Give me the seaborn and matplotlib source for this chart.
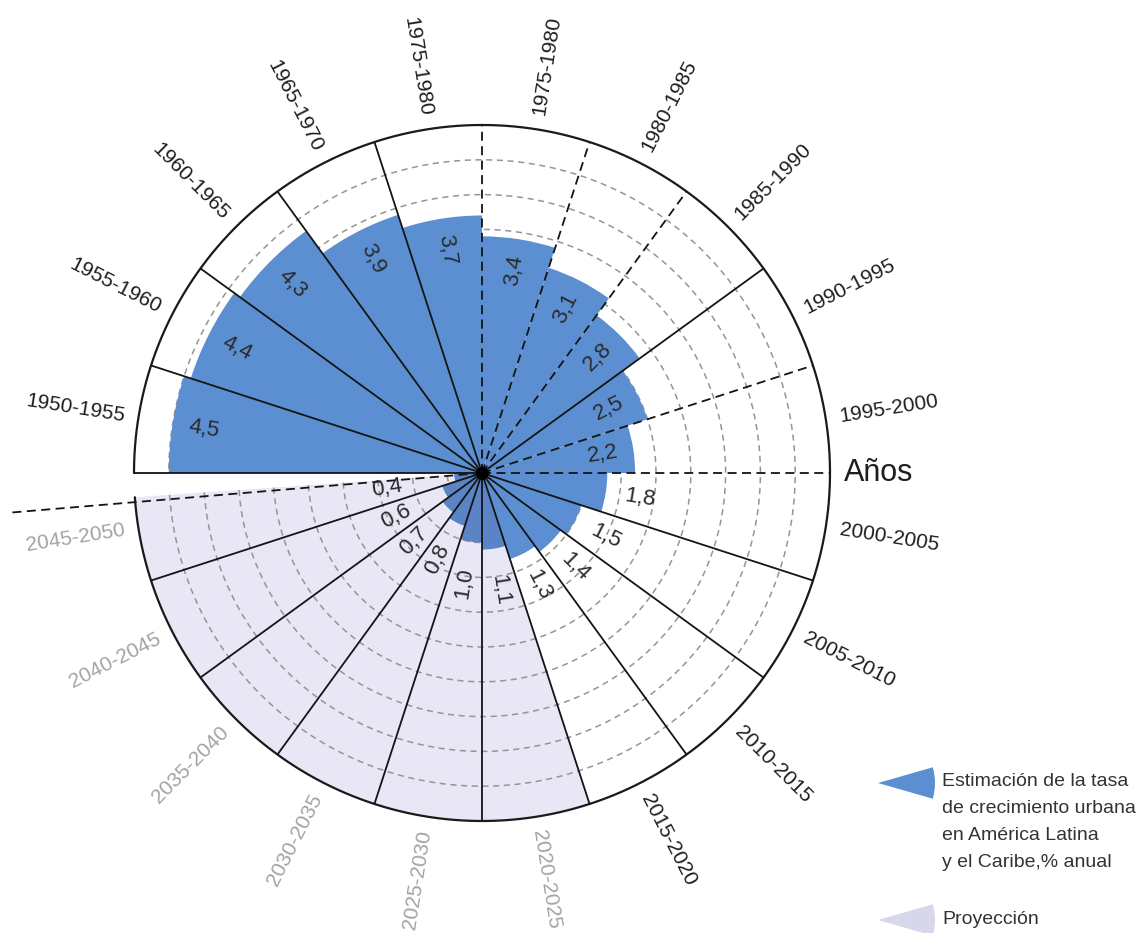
import numpy as np
import matplotlib
matplotlib.use("Agg")
import matplotlib.pyplot as plt
import seaborn as sns
from matplotlib.patches import Wedge

# ---------------- data ----------------
periods = ["1950-1955", "1955-1960", "1960-1965", "1965-1970", "1975-1980",
           "1975-1980", "1980-1985", "1985-1990", "1990-1995", "1995-2000",
           "2000-2005", "2005-2010", "2010-2015", "2015-2020", "2020-2025",
           "2025-2030", "2030-2035", "2035-2040", "2040-2045", "2045-2050"]
rates = [4.5, 4.4, 4.3, 3.9, 3.7, 3.4, 3.1, 2.8, 2.5, 2.2,
         1.8, 1.5, 1.4, 1.3, 1.1, 1.0, 0.8, 0.7, 0.6, 0.4]
projected = [False] * 14 + [True] * 6
legend_labels = ["Estimación de la tasa\nde crecimiento urbana\nen América Latina\ny el Caribe,% anual",
                 "Proyección"]
axis_label = "Años"

# ---------------- style ----------------
sns.set_style("white")
plt.rcParams["font.family"] = ["Liberation Sans", "DejaVu Sans"]

BLUE = "#5b8fd1"
BLUE_PROJ = "#5a84c6"
LAVENDER = "#e9e6f5"
LAV_LEG = "#d6d7ea"
GRID = "#959595"

W, H = 1145, 933
fig = plt.figure(figsize=(W / 100, H / 100), dpi=100)
cx, cy, R = 482, 473, 348
ax = fig.add_axes([(cx - R) / W, (H - cy - R) / H, 2 * R / W, 2 * R / H], projection="polar")
ax.set_ylim(0, 5)
ax.set_axis_off()

n = len(rates)
step = 18
centers_deg = np.array([171 - step * i for i in range(n)], dtype=float)
theta = np.deg2rad(centers_deg)

# projection background
p_idx = [i for i in range(n) if projected[i]]
p_start = centers_deg[p_idx[0]] + step / 2          # -72
p_end = centers_deg[p_idx[-1]] - step / 2 + 4       # gap at the left
ax.bar(np.deg2rad((p_start + p_end) / 2), 5, width=np.deg2rad(abs(p_start - p_end)),
       bottom=0, color=LAVENDER, edgecolor="none", zorder=0.5, align="center")

# grid circles
tt = np.deg2rad(np.linspace(184, 540, 800))
for r in np.arange(0.5, 5.0, 0.5):
    ax.plot(tt, np.full_like(tt, r), color=GRID, lw=1.1, ls=(0, (4, 3)), zorder=1)

# bars
colors = [BLUE_PROJ if p else BLUE for p in projected]
ax.bar(theta, rates, width=np.deg2rad(step), bottom=0, color=colors,
       edgecolor="none", zorder=2, align="center")

# outer circle
ax.plot(tt, np.full_like(tt, 5.0), color="#1a1a1a", lw=1.6, zorder=3, clip_on=False)

# radial separators
dashed = {90, 72, 54, 18, 0}
for k in range(n):
    a = 180 - step * k
    style = (0, (5, 3)) if a in dashed else "-"
    ax.plot([np.deg2rad(a)] * 2, [0, 5], color="#141414", lw=1.3, ls=style, zorder=3)
ax.plot([np.deg2rad(184.8)] * 2, [0, 6.78], color="#141414", lw=1.3, ls=(0, (5, 3)),
        zorder=3, clip_on=False)

ax.scatter([0], [0], s=70, color="black", zorder=4)


def orient(deg):
    a = ((deg + 180) % 360) - 180
    if -90 < a < 90:
        return a, "left"
    return (a - 180 if a > 0 else a + 180), "right"


for i in range(n):
    d = centers_deg[i]
    rot, ha = orient(d)
    col = "#a3a3a3" if projected[i] else "#1e1e1e"
    ax.text(theta[i], 5.2, periods[i], rotation=rot, rotation_mode="anchor",
            ha=ha, va="center", fontsize=15, color=col, zorder=5)
    v = rates[i]
    if i < 10:
        rl = v - 0.45
    elif not projected[i]:
        rl = v + 0.5
    else:
        rl = max(v + 0.6, 1.38)
    ax.text(theta[i], rl, f"{v:.1f}".replace(".", ","), rotation=rot,
            rotation_mode="anchor", ha="center", va="center", fontsize=16,
            color="#2a2a2a", zorder=5)

ax.text(0, 5.2, axis_label, ha="left", va="center", fontsize=22, color="#1e1e1e")

# legend (pixel-space overlay)
lax = fig.add_axes([0, 0, 1, 1])
lax.set_xlim(0, W)
lax.set_ylim(H, 0)
lax.set_axis_off()
lax.add_patch(Wedge((878, 783), 57, -16, 16, color=BLUE, lw=0))
lax.add_patch(Wedge((878, 920), 57, -16, 16, color=LAV_LEG, lw=0))
for k, line in enumerate(legend_labels[0].split("\n")):
    lax.text(942, 781 + 27.2 * k, line, ha="left", va="center", fontsize=14,
             color="#333333")
lax.text(942, 919, legend_labels[1], ha="left", va="center", fontsize=14, color="#333333")

fig.savefig("out.png", dpi=100)
